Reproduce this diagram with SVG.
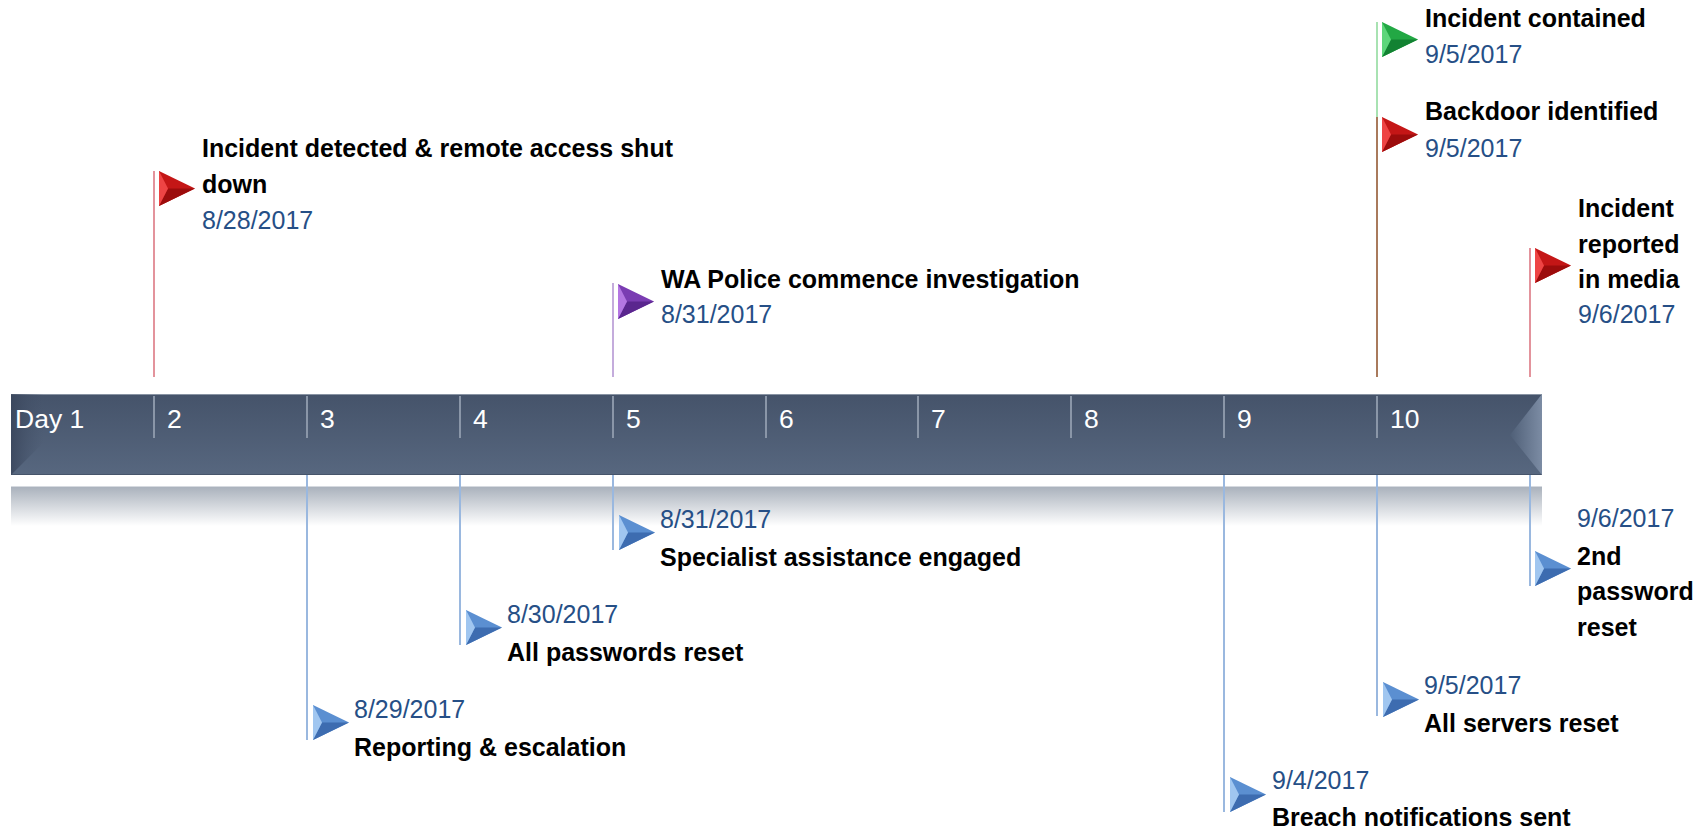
<svg xmlns="http://www.w3.org/2000/svg" xmlns:xlink="http://www.w3.org/1999/xlink" width="1700" height="832" viewBox="0 0 1700 832">
<style>
  text { font-family: "Liberation Sans", Arial, sans-serif; }
  .title { font-size: 25px; font-weight: bold; fill: #000000; }
  .date { font-size: 25px; fill: #264f86; }
  .day { font-size: 26.5px; fill: #ffffff; }
  .tick { stroke: #8a96a8; stroke-width: 2; }
  .lineB { stroke: #9ab8df; stroke-width: 2; fill: none; }
  .poleRed { stroke: #e3939c; stroke-width: 2; }
  .polePurple { stroke: #c4acdc; stroke-width: 2; }
  .poleGreen { stroke: #a8e2b2; stroke-width: 2; }
  .poleBrown { stroke: #a97a5c; stroke-width: 2; }
</style>
<defs>
  <linearGradient id="barGrad" x1="0" y1="0" x2="0" y2="1">
    <stop offset="0" stop-color="#45536a"/>
    <stop offset="1" stop-color="#57677f"/>
  </linearGradient>
  <linearGradient id="shadowGrad" x1="0" y1="0" x2="0" y2="1">
    <stop offset="0" stop-color="#a8b0bb"/>
    <stop offset="1" stop-color="#ffffff"/>
  </linearGradient>
  <linearGradient id="rightBevel" x1="0" y1="0" x2="1" y2="0">
    <stop offset="0" stop-color="#4f5f77"/>
    <stop offset="1" stop-color="#7c8ca4"/>
  </linearGradient>
  <linearGradient id="leftBevel" x1="0" y1="0" x2="1" y2="0">
    <stop offset="0" stop-color="#38445a" stop-opacity="0.8"/>
    <stop offset="1" stop-color="#45536a" stop-opacity="0"/>
  </linearGradient>
  <g id="flagRed">
    <polygon points="0,0 36,17.5 0,35" fill="#c41616"/>
    <polygon points="0,35 36,17.5 9,17.5" fill="#9c0c0c"/>
    <polygon points="0,0 9,17.5 0,35" fill="#ee4444"/>
  </g>
  <g id="flagGreen">
    <polygon points="0,0 36,17.5 0,35" fill="#22a844"/>
    <polygon points="0,35 36,17.5 9,17.5" fill="#128232"/>
    <polygon points="0,0 9,17.5 0,35" fill="#5cd67a"/>
  </g>
  <g id="flagPurple">
    <polygon points="0,0 36,17.5 0,35" fill="#7a3cb2"/>
    <polygon points="0,35 36,17.5 9,17.5" fill="#5a268e"/>
    <polygon points="0,0 9,17.5 0,35" fill="#b476e2"/>
  </g>
  <g id="flagBlue">
    <polygon points="0,0 36,17.5 0,35" fill="#5b8fd1"/>
    <polygon points="0,35 36,17.5 9,17.5" fill="#3d6cb0"/>
    <polygon points="0,0 9,17.5 0,35" fill="#a0c6f0"/>
  </g>
</defs>

<rect width="1700" height="832" fill="#ffffff"/>

<!-- timeline bar -->
<g id="timeline">
  <rect x="11" y="486" width="1531" height="40" fill="url(#shadowGrad)"/>
  <line x1="11" y1="486.5" x2="1542" y2="486.5" stroke="#d6dae0" stroke-width="1"/>
  <rect x="11" y="394" width="1531" height="81" fill="url(#barGrad)"/>
  <line x1="11" y1="394.5" x2="1542" y2="394.5" stroke="#8893a3" stroke-width="1"/>
  <line x1="11" y1="474.5" x2="1542" y2="474.5" stroke="#46546a" stroke-width="1"/>
  <polygon points="11,394 44,394 44,442 11,475" fill="url(#leftBevel)"/>
  <polygon points="1510,435 1542,394 1542,475" fill="url(#rightBevel)"/>
  <line class="tick" x1="154" y1="396" x2="154" y2="438"/>
  <line class="tick" x1="307" y1="396" x2="307" y2="438"/>
  <line class="tick" x1="460" y1="396" x2="460" y2="438"/>
  <line class="tick" x1="613" y1="396" x2="613" y2="438"/>
  <line class="tick" x1="766" y1="396" x2="766" y2="438"/>
  <line class="tick" x1="918" y1="396" x2="918" y2="438"/>
  <line class="tick" x1="1071" y1="396" x2="1071" y2="438"/>
  <line class="tick" x1="1224" y1="396" x2="1224" y2="438"/>
  <line class="tick" x1="1377" y1="396" x2="1377" y2="438"/>
  <text class="day" x="15" y="428">Day 1</text>
  <text class="day" x="167" y="428">2</text>
  <text class="day" x="320" y="428">3</text>
  <text class="day" x="473" y="428">4</text>
  <text class="day" x="626" y="428">5</text>
  <text class="day" x="779" y="428">6</text>
  <text class="day" x="931" y="428">7</text>
  <text class="day" x="1084" y="428">8</text>
  <text class="day" x="1237" y="428">9</text>
  <text class="day" x="1390" y="428">10</text>
</g>

<!-- connectors (poles and drop lines) -->
<g id="connectors">
  <line class="poleRed" x1="154" y1="171" x2="154" y2="377"/>
  <line class="polePurple" x1="613" y1="283" x2="613" y2="377"/>
  <line class="poleGreen" x1="1377" y1="22" x2="1377" y2="117"/>
  <line class="poleBrown" x1="1377" y1="117" x2="1377" y2="377"/>
  <line class="poleRed" x1="1530" y1="248" x2="1530" y2="377"/>
  <line class="lineB" x1="307" y1="475" x2="307" y2="740"/>
  <line class="lineB" x1="460" y1="475" x2="460" y2="645"/>
  <line class="lineB" x1="613" y1="475" x2="613" y2="550"/>
  <line class="lineB" x1="1224" y1="475" x2="1224" y2="812"/>
  <line class="lineB" x1="1377" y1="475" x2="1377" y2="716"/>
  <line class="lineB" x1="1530" y1="475" x2="1530" y2="586"/>
</g>

<!-- events above -->
<g id="ev-detected">
  <use xlink:href="#flagRed" x="159" y="171"/>
  <text class="title" x="202" y="157">Incident detected &amp; remote access shut</text>
  <text class="title" x="202" y="193">down</text>
  <text class="date" x="202" y="229">8/28/2017</text>
</g>
<g id="ev-police">
  <use xlink:href="#flagPurple" x="618" y="284"/>
  <text class="title" x="661" y="288">WA Police commence investigation</text>
  <text class="date" x="661" y="323">8/31/2017</text>
</g>
<g id="ev-contained">
  <use xlink:href="#flagGreen" x="1382" y="22"/>
  <text class="title" x="1425" y="27">Incident contained</text>
  <text class="date" x="1425" y="63">9/5/2017</text>
</g>
<g id="ev-backdoor">
  <use xlink:href="#flagRed" x="1382" y="117"/>
  <text class="title" x="1425" y="120">Backdoor identified</text>
  <text class="date" x="1425" y="157">9/5/2017</text>
</g>
<g id="ev-media">
  <use xlink:href="#flagRed" x="1535" y="248"/>
  <text class="title" x="1578" y="217">Incident</text>
  <text class="title" x="1578" y="253">reported</text>
  <text class="title" x="1578" y="288">in media</text>
  <text class="date" x="1578" y="323">9/6/2017</text>
</g>

<!-- events below -->
<g id="ev-reporting">
  <use xlink:href="#flagBlue" x="313" y="705"/>
  <text class="date" x="354" y="718">8/29/2017</text>
  <text class="title" x="354" y="756">Reporting &amp; escalation</text>
</g>
<g id="ev-passwords">
  <use xlink:href="#flagBlue" x="466" y="610"/>
  <text class="date" x="507" y="623">8/30/2017</text>
  <text class="title" x="507" y="661">All passwords reset</text>
</g>
<g id="ev-specialist">
  <use xlink:href="#flagBlue" x="619" y="515"/>
  <text class="date" x="660" y="528">8/31/2017</text>
  <text class="title" x="660" y="566">Specialist assistance engaged</text>
</g>
<g id="ev-breach">
  <use xlink:href="#flagBlue" x="1230" y="777"/>
  <text class="date" x="1272" y="789">9/4/2017</text>
  <text class="title" x="1272" y="826">Breach notifications sent</text>
</g>
<g id="ev-servers">
  <use xlink:href="#flagBlue" x="1383" y="682"/>
  <text class="date" x="1424" y="694">9/5/2017</text>
  <text class="title" x="1424" y="732">All servers reset</text>
</g>
<g id="ev-password2">
  <use xlink:href="#flagBlue" x="1535" y="551"/>
  <text class="date" x="1577" y="527">9/6/2017</text>
  <text class="title" x="1577" y="565">2nd</text>
  <text class="title" x="1577" y="600">password</text>
  <text class="title" x="1577" y="636">reset</text>
</g>
</svg>
